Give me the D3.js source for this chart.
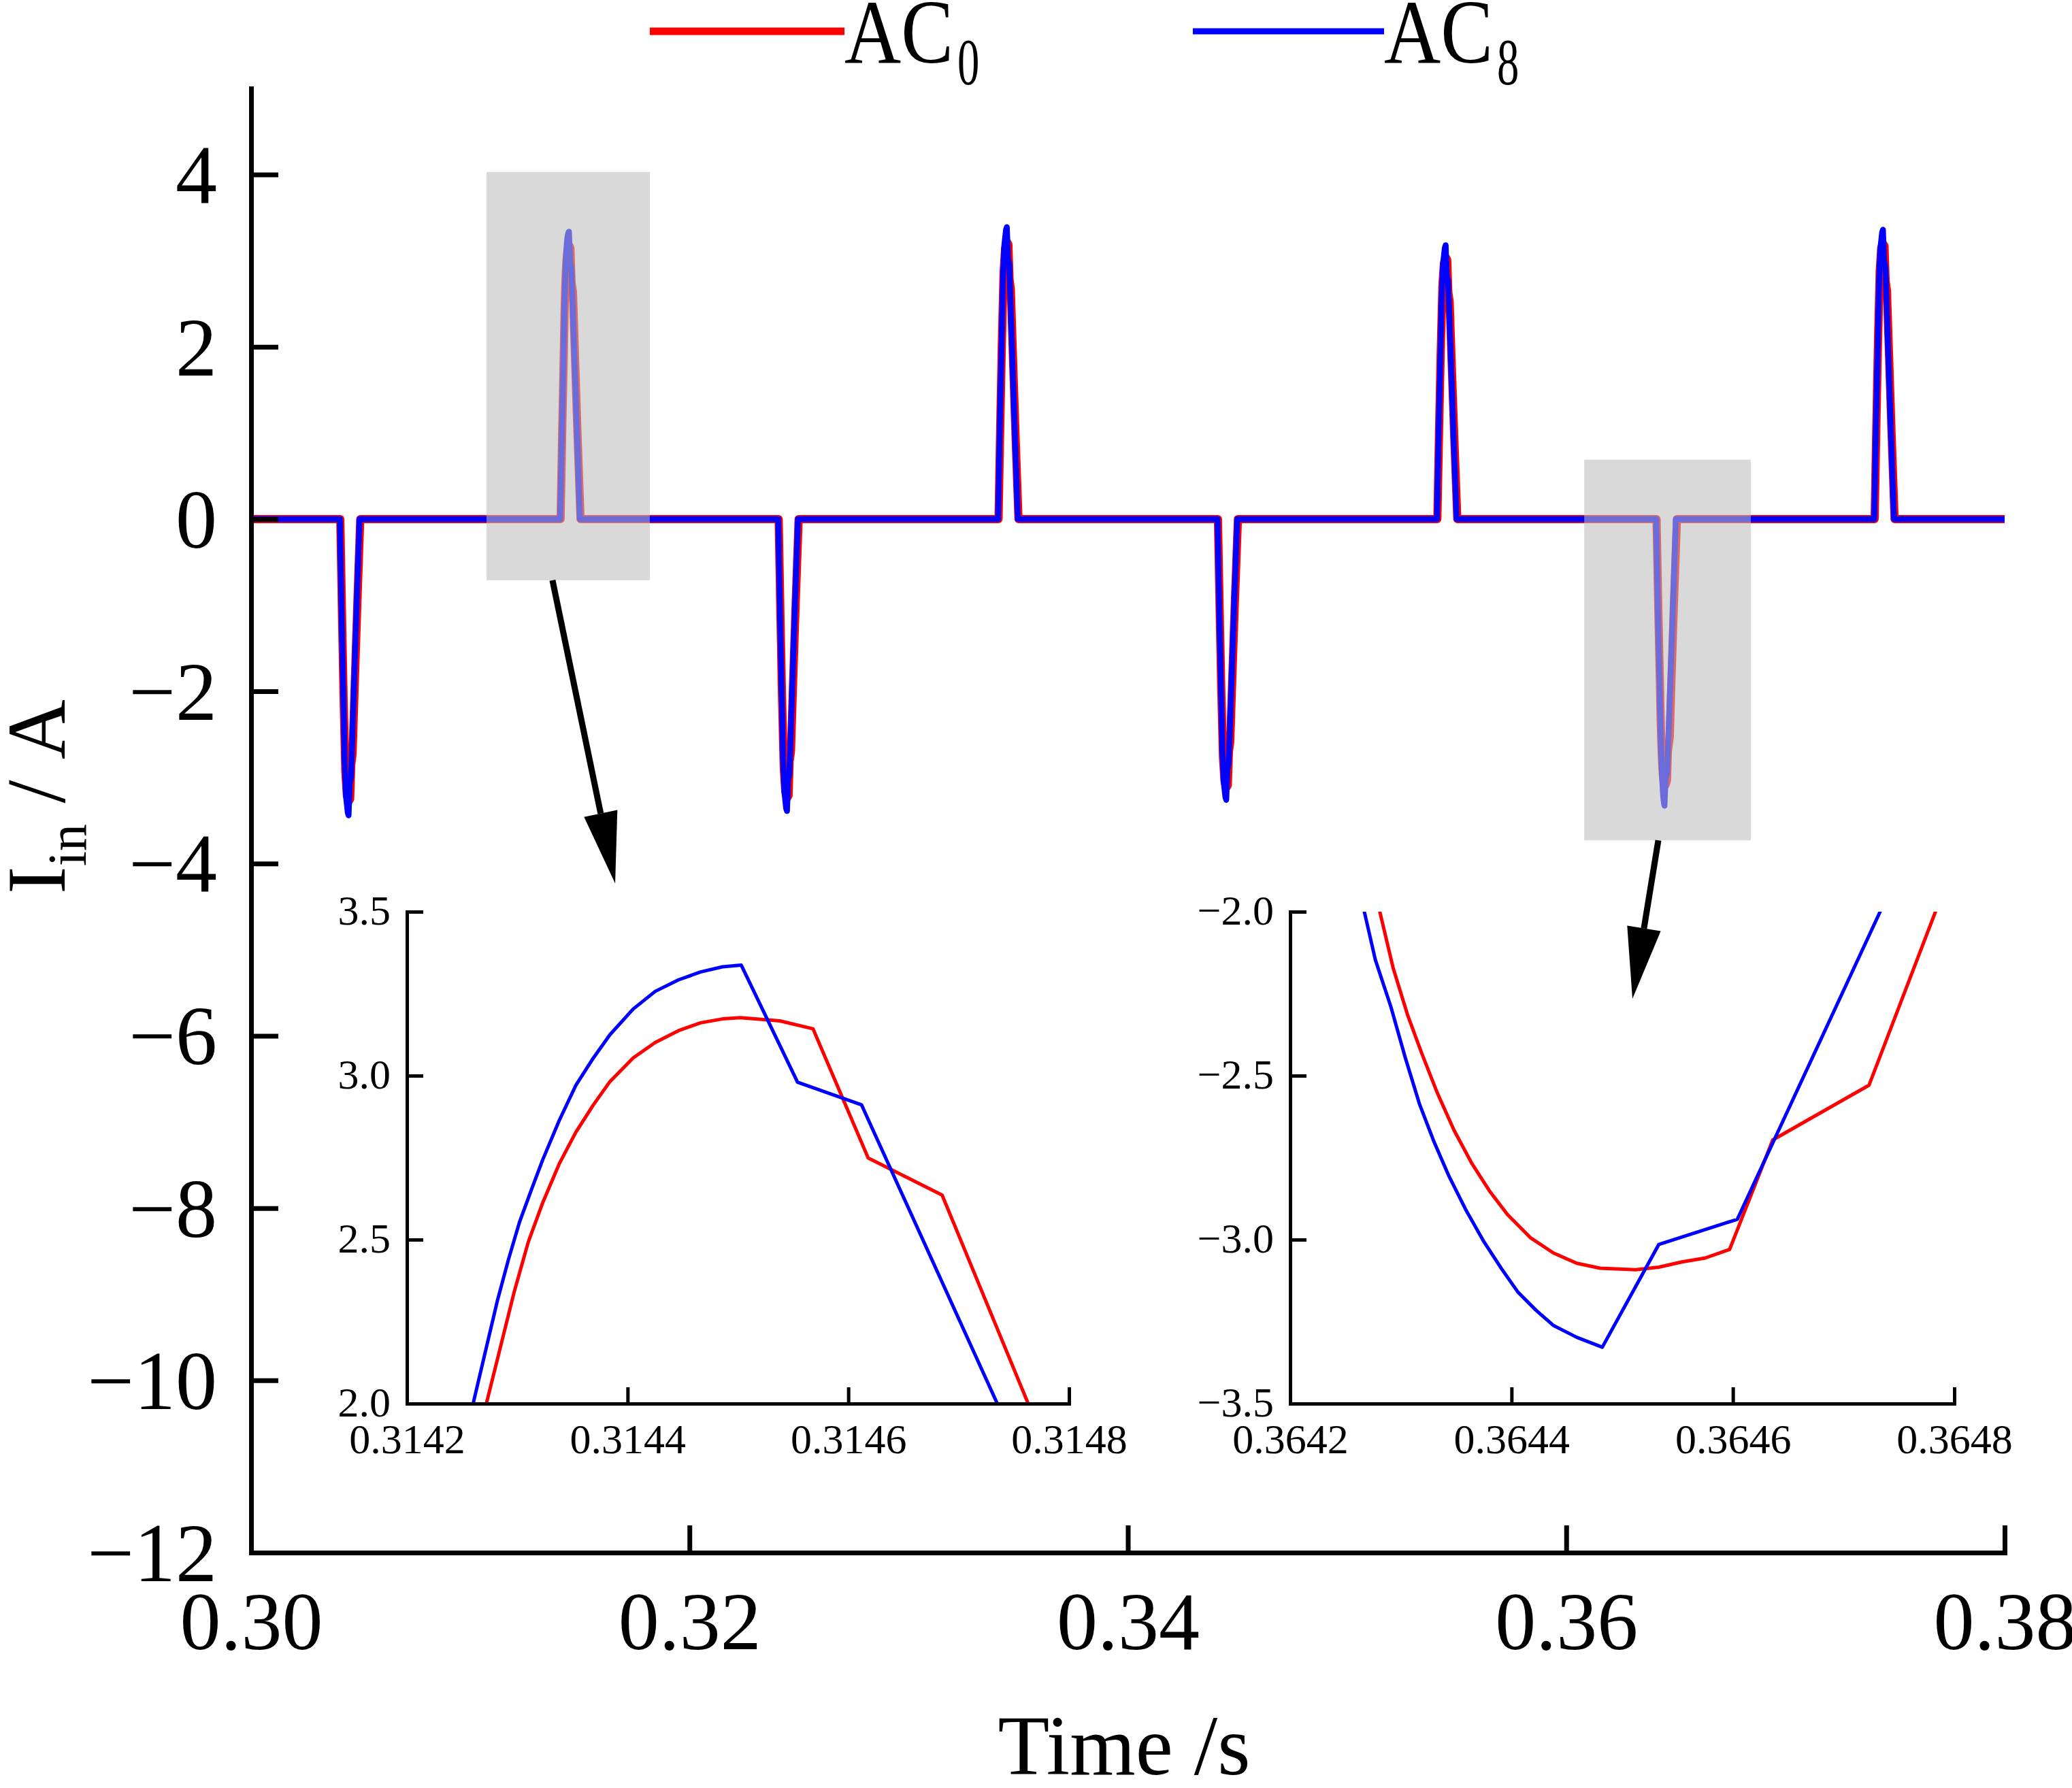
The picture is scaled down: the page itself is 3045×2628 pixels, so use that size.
<!DOCTYPE html>
<html>
<head>
<meta charset="utf-8">
<script src="https://cdn.jsdelivr.net/npm/d3@7"></script>
<style>
  html, body { margin: 0; padding: 0; background: #fff; }
  svg { display: block; }
</style>
</head>
<body>
<div id="chart"></div>
<script>
// ---- data: [time (s), current (A)] ----
const ac0 = [
  [0.3000, 0],
  [0.30407, 0], [0.30415, -1.14], [0.30422, -2.07], [0.30430, -2.93], [0.30437, -3.21], [0.30445, -3.28],
  [0.30452, -3.25], [0.30457, -2.85], [0.30463, -2.73], [0.30471, -2.07], [0.30484, -1.04], [0.30498, 0],
  [0.31412, 0], [0.31420, 1.10], [0.314272, 2.000], [0.314297, 2.338], [0.314310, 2.493], [0.314323, 2.612],
  [0.314338, 2.731], [0.314353, 2.827], [0.314369, 2.911], [0.314384, 2.982], [0.314405, 3.054], [0.314425, 3.101],
  [0.314446, 3.137], [0.314466, 3.161], [0.314486, 3.173], [0.314502, 3.177], [0.314538, 3.167], [0.314568, 3.143],
  [0.314618, 2.749], [0.314685, 2.636], [0.314763, 2.000], [0.31489, 1.0], [0.31503, 0],
  [0.32407, 0], [0.32415, -1.12], [0.32422, -2.04], [0.32430, -2.88], [0.32437, -3.16], [0.32445, -3.24],
  [0.32452, -3.21], [0.32457, -2.81], [0.32463, -2.70], [0.32471, -2.04], [0.32484, -1.02], [0.32498, 0],
  [0.33410, 0], [0.33418, 1.11], [0.33425, 2.03], [0.33433, 2.86], [0.33440, 3.14], [0.33448, 3.22],
  [0.33455, 3.19], [0.33460, 2.79], [0.33466, 2.67], [0.33474, 2.03], [0.33487, 1.01], [0.33501, 0],
  [0.34411, 0], [0.34419, -1.08], [0.34426, -1.96], [0.34434, -2.77], [0.34441, -3.04], [0.34449, -3.12],
  [0.34456, -3.09], [0.34461, -2.70], [0.34467, -2.59], [0.34475, -1.96], [0.34488, -0.98], [0.34502, 0],
  [0.35412, 0], [0.35420, 1.05], [0.35427, 1.91], [0.35435, 2.71], [0.35442, 2.97], [0.35450, 3.04],
  [0.35457, 3.01], [0.35462, 2.63], [0.35468, 2.53], [0.35476, 1.91], [0.35489, 0.96], [0.35503, 0],
  [0.36412, 0], [0.36420, -1.05], [0.364281, -2.000], [0.364293, -2.171], [0.364306, -2.314], [0.364319, -2.433],
  [0.364333, -2.553], [0.364348, -2.666], [0.364364, -2.767], [0.364380, -2.851], [0.364396, -2.922], [0.364417, -2.994],
  [0.364438, -3.041], [0.364459, -3.072], [0.364480, -3.087], [0.364512, -3.092], [0.364533, -3.084], [0.364554, -3.068],
  [0.364575, -3.056], [0.364597, -3.030], [0.364636, -2.696], [0.364723, -2.529], [0.364783, -2.000], [0.36491, -1.0], [0.36505, 0],
  [0.37407, 0], [0.37415, 1.12], [0.37422, 2.03], [0.37430, 2.87], [0.37437, 3.15], [0.37445, 3.20],
  [0.37452, 3.17], [0.37457, 2.77], [0.37463, 2.66], [0.37471, 2.03], [0.37484, 1.01], [0.37498, 0],
  [0.3800, 0]
];

const ac8 = [
  [0.3000, 0],
  [0.30405, 0], [0.30413, -1.13], [0.30421, -2.06], [0.30427, -2.83], [0.30433, -3.22], [0.30441, -3.41],
  [0.30445, -3.44], [0.30450, -3.07], [0.30456, -3.00], [0.30468, -2.06], [0.30481, -1.03], [0.30495, 0],
  [0.31410, 0], [0.31419, 1.10], [0.314260, 2.000], [0.314282, 2.314], [0.314292, 2.439], [0.314302, 2.553],
  [0.314313, 2.654], [0.314323, 2.743], [0.314338, 2.863], [0.314353, 2.970], [0.314369, 3.054], [0.314384, 3.125],
  [0.314405, 3.203], [0.314425, 3.257], [0.314446, 3.292], [0.314466, 3.316], [0.314486, 3.332], [0.314503, 3.337],
  [0.314554, 2.980], [0.314612, 2.911], [0.314735, 2.000], [0.31487, 1.0], [0.31500, 0],
  [0.32405, 0], [0.32413, -1.12], [0.32421, -2.03], [0.32427, -2.79], [0.32433, -3.17], [0.32441, -3.36],
  [0.32445, -3.39], [0.32450, -3.03], [0.32456, -2.96], [0.32468, -2.03], [0.32481, -1.02], [0.32495, 0],
  [0.33408, 0], [0.33416, 1.12], [0.33424, 2.03], [0.33430, 2.79], [0.33436, 3.17], [0.33444, 3.36],
  [0.33448, 3.39], [0.33453, 3.03], [0.33459, 2.96], [0.33471, 2.03], [0.33484, 1.02], [0.33498, 0],
  [0.34409, 0], [0.34417, -1.07], [0.34425, -1.95], [0.34431, -2.68], [0.34437, -3.05], [0.34445, -3.23],
  [0.34449, -3.26], [0.34454, -2.91], [0.34460, -2.84], [0.34472, -1.95], [0.34485, -0.98], [0.34499, 0],
  [0.35410, 0], [0.35418, 1.05], [0.35426, 1.91], [0.35432, 2.61], [0.35438, 2.97], [0.35446, 3.15],
  [0.35450, 3.18], [0.35455, 2.84], [0.35461, 2.77], [0.35473, 1.91], [0.35486, 0.95], [0.35500, 0],
  [0.36410, 0], [0.36418, -1.05], [0.364267, -2.000], [0.364277, -2.147], [0.364291, -2.290], [0.364304, -2.445],
  [0.364317, -2.588], [0.364330, -2.702], [0.364343, -2.803], [0.364359, -2.911], [0.364375, -3.006], [0.364391, -3.089],
  [0.364406, -3.161], [0.364422, -3.215], [0.364438, -3.262], [0.364459, -3.298], [0.364482, -3.328], [0.364533, -3.015],
  [0.364604, -2.938], [0.364733, -2.000], [0.36487, -1.0], [0.36500, 0],
  [0.37405, 0], [0.37413, 1.11], [0.37421, 2.01], [0.37427, 2.76], [0.37433, 3.14], [0.37441, 3.33],
  [0.37445, 3.36], [0.37450, 3.00], [0.37456, 2.93], [0.37468, 2.01], [0.37481, 1.01], [0.37495, 0],
  [0.3800, 0]
];

const seriesNames = ["AC", "AC"];
const seriesSubs = ["0", "8"];

const xTicks = [0.30, 0.32, 0.34, 0.36, 0.38];
const yTicks = [-12, -10, -8, -6, -4, -2, 0, 2, 4];

const inset1XTicks = [0.3142, 0.3144, 0.3146, 0.3148];
const inset1YTicks = [2.0, 2.5, 3.0, 3.5];
const inset2XTicks = [0.3642, 0.3644, 0.3646, 0.3648];
const inset2YTicks = [-3.5, -3.0, -2.5, -2.0];

// zoomed windows shown as grey boxes (data units) and the arrows to the insets
const zoomBoxes = [
  { t0: 0.31074, t1: 0.31819, i0: -0.71, i1: 4.03 },
  { t0: 0.36082, t1: 0.36842, i0: -3.73, i1: 0.69 }
];
const arrows = [
  { from: [0.31375, -0.71], to: [0.31661, -4.23] },
  { from: [0.36420, -3.73], to: [0.36302, -5.57] }
];

// ---- drawing ----
const W = 3045, H = 2628;
const font = "'Liberation Serif', 'Times New Roman', serif";

const svg = d3.select("#chart").append("svg")
  .attr("width", W)
  .attr("height", H)
  .attr("viewBox", [0, 0, W, H]);

svg.append("rect").attr("width", W).attr("height", H).attr("fill", "#fff");

const x = d3.scaleLinear().domain([0.30, 0.38]).range([369, 2946]);
const y = d3.scaleLinear().domain([-12, 5]).range([2282, 130]);

const series = [
  { data: ac0, color: "#ff0000", width: 12, name: seriesNames[0], sub: seriesSubs[0] },
  { data: ac8, color: "#0000ff", width: 8.5, name: seriesNames[1], sub: seriesSubs[1] }
];

function lineGen(sx, sy) {
  return d3.line().x(d => sx(d[0])).y(d => sy(d[1]));
}

// main traces
svg.append("g")
  .attr("fill", "none")
  .selectAll("path")
  .data(series)
  .join("path")
  .attr("d", s => lineGen(x, y)(s.data))
  .attr("stroke", s => s.color)
  .attr("stroke-width", s => s.width)
  .attr("stroke-linejoin", "round");

// grey highlight boxes (semi transparent, over the traces)
svg.append("g")
  .selectAll("rect")
  .data(zoomBoxes)
  .join("rect")
  .attr("x", d => x(d.t0))
  .attr("y", d => y(d.i1))
  .attr("width", d => x(d.t1) - x(d.t0))
  .attr("height", d => y(d.i0) - y(d.i1))
  .attr("fill", "#bcbcbc")
  .attr("fill-opacity", 0.57);

function styleAxis(g, fs, sw) {
  g.select(".domain").attr("stroke", "#000").attr("stroke-width", sw).attr("stroke-linecap", "square");
  g.selectAll(".tick line").attr("stroke", "#000").attr("stroke-width", sw);
  g.selectAll(".tick text")
    .attr("font-family", font)
    .attr("font-size", fs)
    .attr("fill", "#000");
}

// main axes
svg.append("g")
  .attr("transform", `translate(0,${y(-12)})`)
  .call(d3.axisBottom(x).tickValues(xTicks).tickFormat(d3.format(".2f"))
    .tickSize(-40).tickSizeOuter(0).tickPadding(57))
  .call(g => styleAxis(g, 120, 7));

svg.append("g")
  .attr("transform", `translate(${x(0.30)},0)`)
  .call(d3.axisLeft(y).tickValues(yTicks).tickFormat(d3.format("d"))
    .tickSize(-40).tickSizeOuter(0).tickPadding(50))
  .call(g => styleAxis(g, 122, 7))
  .call(g => g.selectAll(".tick text").attr("dy", "0.34em"));

// axis titles
svg.append("text")
  .attr("x", 1652)
  .attr("y", 2608)
  .attr("text-anchor", "middle")
  .attr("font-family", font)
  .attr("font-size", 124)
  .text("Time /s");

const yTitle = svg.append("text")
  .attr("transform", "translate(95,1171) rotate(-90)")
  .attr("text-anchor", "middle")
  .attr("font-family", font)
  .attr("font-size", 122);
yTitle.append("tspan").text("I");
yTitle.append("tspan").attr("font-size", 80).attr("dy", 31).text("in");
yTitle.append("tspan").attr("dy", -31).text("\u00a0/\u00a0A");

// legend
const legendPos = [[955, 1241], [1753, 2034]];
const legend = svg.append("g")
  .selectAll("g")
  .data(series)
  .join("g");
legend.append("line")
  .attr("x1", (d, i) => legendPos[i][0])
  .attr("x2", (d, i) => legendPos[i][1])
  .attr("y1", 46)
  .attr("y2", 46)
  .attr("stroke", d => d.color)
  .attr("stroke-width", (d, i) => i === 0 ? 11 : 9);
legend.append("text")
  .attr("transform", (d, i) => `translate(${legendPos[i][1]},92) scale(0.86,1)`)
  .attr("font-family", font)
  .attr("font-size", 134)
  .text(d => d.name);
legend.append("text")
  .attr("transform", (d, i) => `translate(${legendPos[i][1] + 166},124) scale(0.66,1)`)
  .attr("font-family", font)
  .attr("font-size", 98)
  .text(d => d.sub);

// arrows from the grey boxes to the insets
const arrowG = svg.append("g");
arrows.forEach(a => {
  const x0 = x(a.from[0]), y0 = y(a.from[1]);
  const x1 = x(a.to[0]), y1 = y(a.to[1]);
  const ang = Math.atan2(y1 - y0, x1 - x0);
  const headLen = 105, headHalf = 25;
  const bx = x1 - headLen * Math.cos(ang), by = y1 - headLen * Math.sin(ang);
  arrowG.append("line")
    .attr("x1", x0).attr("y1", y0)
    .attr("x2", bx).attr("y2", by)
    .attr("stroke", "#000")
    .attr("stroke-width", 9);
  const px = -Math.sin(ang), py = Math.cos(ang);
  arrowG.append("path")
    .attr("d", `M${x1},${y1}L${bx + px * headHalf},${by + py * headHalf}L${bx - px * headHalf},${by - py * headHalf}Z`)
    .attr("fill", "#000");
});

// insets
function drawInset(id, xs, ys, xt, yt, xfmt, yfmt) {
  const g = svg.append("g");
  const [l, r] = xs.range();
  const [b, t] = ys.range();
  g.append("clipPath").attr("id", id)
    .append("rect").attr("x", l).attr("y", t).attr("width", r - l).attr("height", b - t);

  g.append("g")
    .attr("clip-path", `url(#${id})`)
    .attr("fill", "none")
    .selectAll("path")
    .data(series)
    .join("path")
    .attr("d", s => lineGen(xs, ys)(s.data))
    .attr("stroke", s => s.color)
    .attr("stroke-width", 5)
    .attr("stroke-linejoin", "round");

  g.append("g")
    .attr("transform", `translate(0,${b})`)
    .call(d3.axisBottom(xs).tickValues(xt).tickFormat(d3.format(xfmt))
      .tickSize(-24).tickSizeOuter(0).tickPadding(29))
    .call(a => styleAxis(a, 62, 5));

  g.append("g")
    .attr("transform", `translate(${l},0)`)
    .call(d3.axisLeft(ys).tickValues(yt).tickFormat(d3.format(yfmt))
      .tickSize(-24).tickSizeOuter(0).tickPadding(24))
    .call(a => styleAxis(a, 62, 5))
    .call(a => a.selectAll(".tick text").attr("dy", "0.30em"));
}

drawInset("clip1",
  d3.scaleLinear().domain([0.3142, 0.3148]).range([598, 1571]),
  d3.scaleLinear().domain([2.0, 3.5]).range([2063, 1340]),
  inset1XTicks, inset1YTicks, ".4f", ".1f");

drawInset("clip2",
  d3.scaleLinear().domain([0.3642, 0.3648]).range([1896, 2872]),
  d3.scaleLinear().domain([-3.5, -2.0]).range([2063, 1340]),
  inset2XTicks, inset2YTicks, ".4f", ".1f");
</script>
</body>
</html>
